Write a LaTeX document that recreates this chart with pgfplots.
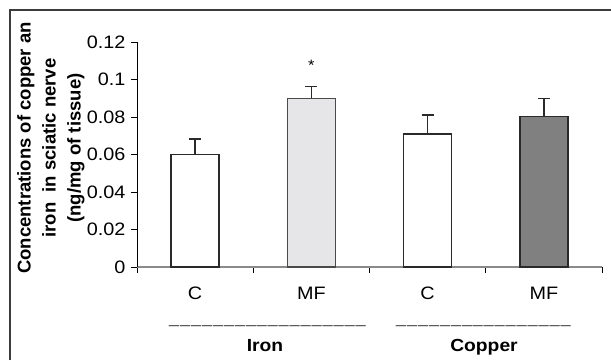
\documentclass[border=0pt]{standalone}
\usepackage{pgfplots}
\pgfplotsset{compat=1.18}
\usepackage{fontspec}
\setmainfont{Liberation Sans}[FakeStretch=1.1]
\newfontfamily\labfont{Liberation Sans}
\definecolor{edge}{HTML}{2A2A2A}
\definecolor{edgetwo}{HTML}{4A4A4A}
\definecolor{lightbar}{HTML}{E6E6E8}
\definecolor{darkbar}{HTML}{808080}
\definecolor{framec}{HTML}{3C3C3C}
\definecolor{xaxisc}{HTML}{8A8A8A}
\newcommand{\us}{\_\kern1.2pt}
\begin{document}
\begin{tikzpicture}[x=1pt,y=1pt]
\useasboundingbox (0,0) rectangle (611,360);
\draw[line width=1.6pt, color=framec] (10,0) -- (10,350) -- (611,350);
\begin{axis}[
  at={(137pt,93pt)}, anchor=south west,
  scale only axis, width=465pt, height=225pt,
  xmin=0.5, xmax=4.5, ymin=0, ymax=0.12,
  axis lines=left,
  x axis line style={-, draw=xaxisc, line width=1.2pt},
  y axis line style={-, draw=black, line width=1pt},
  xtick={0.5,1.5,2.5,3.5,4.5}, xticklabels={},
  extra x ticks={1,2,3,4}, extra x tick labels={C,MF,C,MF},
  extra x tick style={major tick length=0pt,
     tick label style={anchor=base, yshift=-32pt}},
  ytick={0,0.02,0.04,0.06,0.08,0.1,0.12},
  yticklabels={0,0.02,0.04,0.06,0.08,0.1,0.12},
  scaled y ticks=false,
  tick align=outside, major tick length=6pt,
  tick style={line width=1pt, black},
  ticklabel style={font=\fontsize{18}{21}\selectfont},
  yticklabel style={xshift=-2pt},
  clip=false,
  ybar, bar width=48pt,
  error bars/y dir=plus, error bars/y explicit,
  error bars/error bar style={line width=1.5pt, edge},
  error bars/error mark options={rotate=90, mark size=6pt, line width=1.5pt, edge},
]
\addplot[bar shift=0pt, fill=white, draw=edge, line width=1.5pt] coordinates {(1,0.060) +- (0,0.0084)};
\addplot[bar shift=0pt, fill=lightbar, draw=edgetwo, line width=1.5pt] coordinates {(2,0.090) +- (0,0.0064)};
\addplot[bar shift=0pt, fill=white, draw=edge, line width=1.5pt] coordinates {(3,0.0709) +- (0,0.0103)};
\addplot[bar shift=0pt, fill=darkbar, draw=edge, line width=1.5pt] coordinates {(4,0.0803) +- (0,0.0097)};
\node[font=\fontsize{15}{16}\selectfont] at (axis cs:2,0.1075) {*};
\end{axis}
\node[rotate=90, align=center, font=\labfont\bfseries\fontsize{18.5}{25}\selectfont] at (51,212)
  {Concentrations of copper an\\iron\ \ in sciatic nerve\\(ng/mg of tissue)};
\node[anchor=base, font=\fontsize{16}{20}\selectfont, text=framec] at (268,37) {\us\us\us\us\us\us\us\us\us\us\us\us\us\us\us\us\us\us};
\node[anchor=base, font=\fontsize{16}{20}\selectfont, text=framec] at (484,37) {\us\us\us\us\us\us\us\us\us\us\us\us\us\us\us\us};
\node[anchor=base, font=\bfseries\fontsize{17.5}{20}\selectfont] at (265,9) {Iron};
\node[anchor=base, font=\bfseries\fontsize{17.5}{20}\selectfont] at (484,9) {Copper};
\end{tikzpicture}
\end{document}
